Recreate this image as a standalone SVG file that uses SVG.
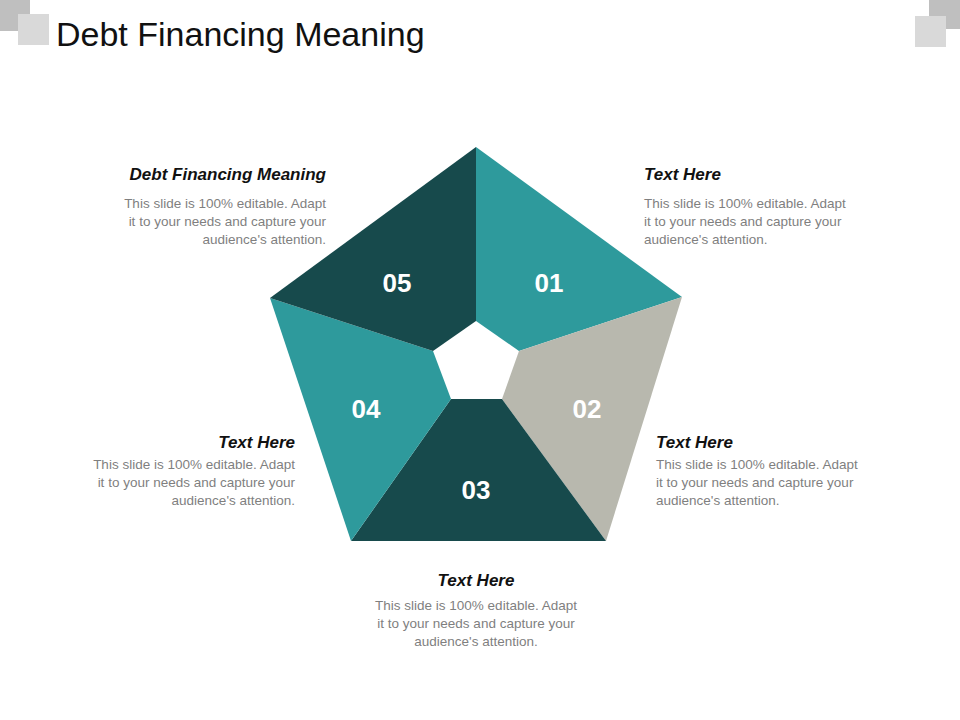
<svg xmlns="http://www.w3.org/2000/svg" width="960" height="720" viewBox="0 0 960 720">
<style>
.t{font-family:"Liberation Sans",Arial,sans-serif}
.h{font-size:17px;font-weight:bold;font-style:italic;fill:#111}
.b{font-size:13.5px;fill:#7f7f7f}
.n{font-size:26px;font-weight:bold;fill:#fff;text-anchor:middle}
</style>
<rect width="960" height="720" fill="#fff"/>
<rect x="0" y="0" width="30" height="31" fill="#bfbfbf"/>
<rect x="18" y="14" width="31" height="31" fill="#d9d9d9"/>
<rect x="929" y="0" width="31" height="29" fill="#bfbfbf"/>
<rect x="915" y="16" width="31" height="31" fill="#d9d9d9"/>
<text class="t" x="56" y="46" font-size="34" fill="#111">Debt Financing Meaning</text>
<g id="s01"><polygon points="476,147 682,297 519,351 476,321" fill="#2e9a9c"/><text class="t n" x="549" y="292">01</text></g>
<g id="s02"><polygon points="682,297 606,541 502,399 519,351" fill="#b8b8ae"/><text class="t n" x="587" y="418">02</text></g>
<g id="s03"><polygon points="606,541 351,541 451,399 502,399" fill="#174a4c"/><text class="t n" x="476" y="499">03</text></g>
<g id="s04"><polygon points="351,541 270,298 433,351 451,399" fill="#2e9a9c"/><text class="t n" x="366" y="418">04</text></g>
<g id="s05"><polygon points="270,298 476,147 476,321 433,351" fill="#174a4c"/><text class="t n" x="397" y="292">05</text></g>
<g id="l05" class="t" text-anchor="end"><text class="h" x="326" y="180">Debt Financing Meaning</text>
<text class="b" x="326" y="208">This slide is 100% editable. Adapt</text><text class="b" x="326" y="226">it to your needs and capture your</text><text class="b" x="326" y="244">audience's attention.</text></g>
<g id="l01" class="t"><text class="h" x="644" y="180">Text Here</text>
<text class="b" x="644" y="208">This slide is 100% editable. Adapt</text><text class="b" x="644" y="226">it to your needs and capture your</text><text class="b" x="644" y="244">audience's attention.</text></g>
<g id="l04" class="t" text-anchor="end"><text class="h" x="295" y="448">Text Here</text>
<text class="b" x="295" y="469">This slide is 100% editable. Adapt</text><text class="b" x="295" y="487">it to your needs and capture your</text><text class="b" x="295" y="505">audience's attention.</text></g>
<g id="l02" class="t"><text class="h" x="656" y="448">Text Here</text>
<text class="b" x="656" y="469">This slide is 100% editable. Adapt</text><text class="b" x="656" y="487">it to your needs and capture your</text><text class="b" x="656" y="505">audience's attention.</text></g>
<g id="l03" class="t" text-anchor="middle"><text class="h" x="476" y="586">Text Here</text>
<text class="b" x="476" y="610">This slide is 100% editable. Adapt</text><text class="b" x="476" y="628">it to your needs and capture your</text><text class="b" x="476" y="646">audience's attention.</text></g>
<g id="connectors"/>
</svg>
